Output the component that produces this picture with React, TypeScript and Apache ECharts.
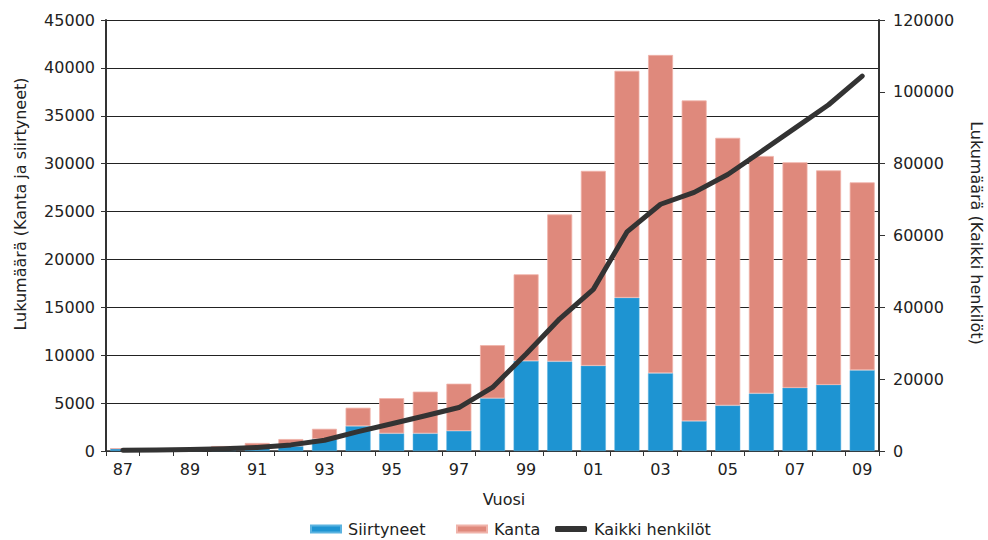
import React, { useEffect, useRef } from "react";
import * as echarts from "echarts";

const years = ["87","88","89","90","91","92","93","94","95","96","97","98","99","00","01","02","03","04","05","06","07","08","09"];
const siirtyneet = [250, 80, 120, 150, 300, 500, 1250, 2600, 1830, 1830, 2100, 5500, 9400, 9350, 8900, 16000, 8130, 3120, 4750, 6010, 6600, 6910, 8440];
const kanta = [0, 50, 130, 370, 540, 750, 1070, 1920, 3690, 4370, 4930, 5550, 9050, 15350, 20350, 23700, 33220, 33480, 27950, 24790, 23550, 22390, 19610];
const kaikki = [200, 300, 400, 600, 1000, 1700, 3000, 5400, 7600, 9800, 12100, 17700, 27000, 36800, 45000, 61000, 68700, 72000, 77000, 83400, 89900, 96400, 104400];
const leftTicks = { min: 0, max: 45000, interval: 5000 };
const rightTicks = { min: 0, max: 120000, interval: 20000 };

const FONT = "DejaVu Sans";
const TXT = "#222";
const plain = (v: number) => String(v);

export default function App() {
  const ref = useRef<HTMLDivElement>(null);
  useEffect(() => {
    if (!ref.current) return;
    const chart = echarts.init(ref.current, null, { renderer: "svg" });
    chart.setOption({
      animation: false,
      textStyle: { fontFamily: FONT, color: TXT },
      grid: { left: 106, right: 109, top: 20, bottom: 89, containLabel: false },
      legend: [
        { left: 305, top: 516, itemWidth: 30, itemHeight: 7, itemGap: 0, data: [{ name: "Siirtyneet", icon: "rect" }], textStyle: { fontFamily: FONT, fontSize: 16, color: TXT, padding: [0, 0, 0, 2] } },
        { left: 451, top: 516, itemWidth: 30, itemHeight: 7, itemGap: 0, data: [{ name: "Kanta", icon: "rect" }], textStyle: { fontFamily: FONT, fontSize: 16, color: TXT, padding: [0, 0, 0, 2] } },
        { left: 550, top: 516, itemWidth: 32, itemHeight: 6, itemGap: 0, data: [{ name: "Kaikki henkilöt", icon: "roundRect", itemStyle: { color: "#333" } }], textStyle: { fontFamily: FONT, fontSize: 16, color: TXT, padding: [0, 0, 0, 2] } },
      ],
      xAxis: {
        type: "category",
        data: years,
        boundaryGap: true,
        axisLine: { lineStyle: { color: "#333", width: 1.5 } },
        axisTick: { show: true, interval: 0, length: 5, lineStyle: { color: "#333" } },
        axisLabel: { interval: 1, fontSize: 16, color: TXT, fontFamily: FONT, margin: 10 },
      },
      yAxis: [
        {
          type: "value",
          ...leftTicks,
          position: "left",
          axisLine: { show: true, lineStyle: { color: "#333", width: 2 } },
          axisTick: { show: true, length: 5, lineStyle: { color: "#333" } },
          axisLabel: { fontSize: 16, color: TXT, fontFamily: FONT, margin: 11, formatter: plain },
          splitLine: { show: true, lineStyle: { color: "#222", width: 1 } },
        },
        {
          type: "value",
          ...rightTicks,
          position: "right",
          axisLine: { show: true, lineStyle: { color: "#333", width: 2 } },
          axisTick: { show: true, length: 6, lineStyle: { color: "#333" } },
          axisLabel: { fontSize: 16, color: TXT, fontFamily: FONT, margin: 14, formatter: plain },
          splitLine: { show: false },
        },
      ],
      graphic: [
        { type: "text", x: 20, y: 204, rotation: Math.PI / 2, style: { text: "Lukumäärä (Kanta ja siirtyneet)", fontSize: 16, fontFamily: FONT, fill: TXT, align: "center", verticalAlign: "middle" } },
        { type: "text", x: 976, y: 233, rotation: -Math.PI / 2, style: { text: "Lukumäärä (Kaikki henkilöt)", fontSize: 16, fontFamily: FONT, fill: TXT, align: "center", verticalAlign: "middle" } },
        { type: "text", x: 504, y: 499, style: { text: "Vuosi", fontSize: 16, fontFamily: FONT, fill: TXT, align: "center", verticalAlign: "middle" } },
      ],
      series: [
        {
          name: "Siirtyneet",
          type: "bar",
          stack: "a",
          data: siirtyneet,
          barWidth: 25,
          itemStyle: { color: "#1e94d2", borderColor: "#5bb3e0", borderWidth: 0.5 },
        },
        {
          name: "Kanta",
          type: "bar",
          stack: "a",
          data: kanta,
          barWidth: 25,
          itemStyle: { color: "#df897c", borderColor: "#f0b3aa", borderWidth: 0.8 },
        },
        {
          name: "Kaikki henkilöt",
          type: "line",
          yAxisIndex: 1,
          data: kaikki,
          showSymbol: false,
          symbol: "none",
          z: 5,
          lineStyle: { color: "#333", width: 5, cap: "round", join: "round" },
          itemStyle: { color: "#333" },
        },
      ],
    });
    return () => chart.dispose();
  }, []);
  return <div ref={ref} style={{ width: 988, height: 540, position: "absolute", left: 0, top: 0 }} />;
}
